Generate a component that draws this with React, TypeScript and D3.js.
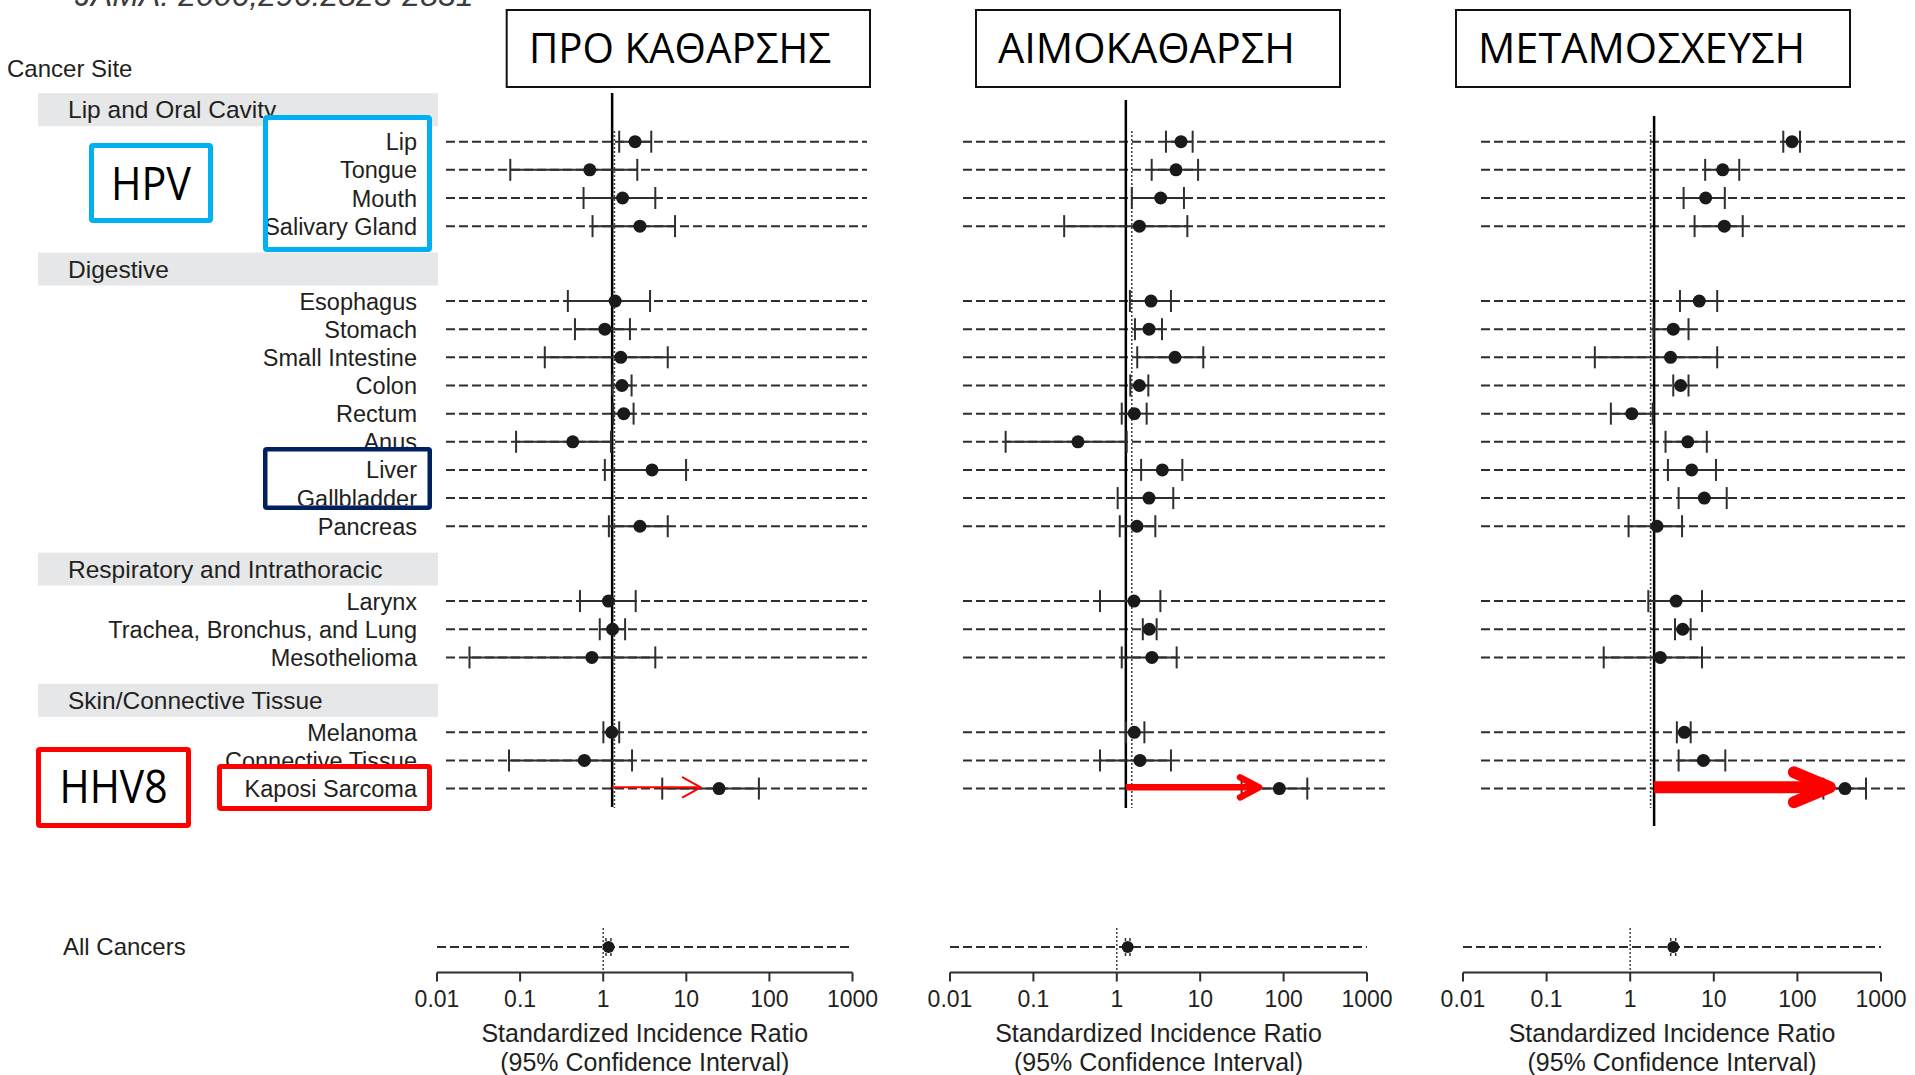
import React from "react";
import * as d3 from "d3";

// ---------- data ----------
const groupNames = ["Lip and Oral Cavity", "Digestive", "Respiratory and Intrathoracic", "Skin/Connective Tissue"];
const siteNames = [
  "Lip", "Tongue", "Mouth", "Salivary Gland",
  "Esophagus", "Stomach", "Small Intestine", "Colon", "Rectum", "Anus", "Liver", "Gallbladder", "Pancreas",
  "Larynx", "Trachea, Bronchus, and Lung", "Mesothelioma",
  "Melanoma", "Connective Tissue", "Kaposi Sarcoma",
];
const siteGroup = [0, 0, 0, 0, 1, 1, 1, 1, 1, 1, 1, 1, 1, 2, 2, 2, 3, 3, 3];

const panelTitles = ["ΠΡΟ ΚΑΘΑΡΣΗΣ", "ΑΙΜΟΚΑΘΑΡΣΗ", "ΜΕΤΑΜΟΣΧΕΥΣΗ"];

// before dialysis
const preSIR = [1.76, 0.51, 1.25, 2.01, 1.02, 0.77, 1.19, 1.23, 1.29, 0.32, 2.8, null, 2.01, 0.85, 0.95, 0.54, 0.93, 0.44, 17.5];
const preLow = [1.14, 0.058, 0.43, 0.55, 0.28, 0.34, 0.149, 0.95, 0.97, 0.068, 0.77, null, 0.86, 0.39, 0.67, 0.019, 0.74, 0.056, 3.7];
const preHigh = [2.74, 1.87, 3.06, 5.25, 2.65, 1.53, 4.3, 1.6, 1.69, 0.91, 7.1, null, 4.3, 1.79, 1.34, 3.06, 1.14, 1.62, 52];

// dialysis
const dialSIR = [3.83, 3.34, 2.2, 1.23, 1.69, 1.6, 3.25, 1.23, 1.07, 0.23, 2.3, 1.6, 1.15, 1.06, 1.61, 1.73, 1.07, 1.25, 56];
const dialLow = [2.54, 1.72, 1.0, 0.158, 0.95, 1.09, 1.16, 0.96, 0.76, 0.032, 1.29, 0.68, 0.72, 0.42, 1.35, 0.76, 0.85, 0.42, 20];
const dialHigh = [5.26, 6.1, 4.15, 4.55, 2.91, 2.28, 7.03, 1.57, 1.5, 0.87, 3.97, 3.1, 1.9, 2.18, 1.97, 3.4, 1.41, 2.91, 120];

// transplant
const txSIR = [46.5, 7.08, 4.46, 7.4, 3.75, 1.85, 1.72, 2.26, 0.6, 2.74, 3.05, 4.3, 1.19, 2.0, 2.39, 1.3, 2.5, 4.19, 196];
const txLow = [36.7, 4.4, 2.45, 3.3, 2.22, 1.08, 0.22, 1.85, 0.34, 1.5, 1.6, 2.14, 0.55, 0.94, 1.94, 0.28, 2.04, 2.14, 109];
const txHigh = [57.8, 11.1, 7.5, 12.2, 6.1, 2.8, 6.1, 2.8, 1.06, 4.6, 5.9, 7.9, 2.35, 4.04, 2.97, 4.04, 2.97, 7.6, 347];

const allCancersSIR = [1.16, 1.35, 3.27];
const allCancersLow = [1.08, 1.27, 3.05];
const allCancersHigh = [1.24, 1.44, 3.5];

const tickValues = [0.01, 0.1, 1, 10, 100, 1000];
const tickLabels = ["0.01", "0.1", "1", "10", "100", "1000"];
const solidRefValue = [0.94, 0.85, 1.1];
const arrowTipValue = [10.6, 32.2, 130];

const panels = [
  { title: panelTitles[0], sir: preSIR, low: preLow, high: preHigh },
  { title: panelTitles[1], sir: dialSIR, low: dialLow, high: dialHigh },
  { title: panelTitles[2], sir: txSIR, low: txLow, high: txHigh },
];

// ---------- layout ----------
const W = 1915;
const H = 1075;
const upperRange = [[446, 867], [963, 1385], [1481, 1905]];
const axisRange = [[437, 852.5], [950, 1367], [1463, 1881]];
const titleBox = [
  { x0: 506.7, x1: 870, tx: 529, tl: 302 },
  { x0: 976, x1: 1340, tx: 998, tl: 297 },
  { x0: 1456, x1: 1850, tx: 1478, tl: 327 },
];
const solidTop = [93, 100, 116];
const solidBottom = [807, 808, 826];
const arrowStyle = [
  { sw: 2, len: 18, half: 10 },
  { sw: 6.5, len: 19, half: 10 },
  { sw: 12, len: 36, half: 15 },
];
const GAP = 1.66;
const TEXT = "#231f20";
const LINE = "#2e2e2e";
const FONT = "'Liberation Sans', Arial, Helvetica, sans-serif";
const SLIDE_FONT = "'Open Sans', 'Noto Sans', sans-serif";

const rowIdx = siteNames.map((_, i) => i + siteGroup[i] * GAP);
const y = d3.scaleLinear().domain([0, 18 + 3 * GAP]).range([141.7, 788.6]);
const groupFirst = groupNames.map((_, g) => siteGroup.indexOf(g));

const allY = 947;
const axisY = 972.5;

type Box = { x0: number; y0: number; x1: number; y1: number; color: string; sw: number; rows?: number[]; text?: string; fs?: number; tl?: number; ty?: number };
const boxes: Box[] = [
  { x0: 89, y0: 143, x1: 213, y1: 223, color: "#00b0f0", sw: 5, text: "HPV", fs: 46, tl: 80, ty: 200 },
  { x0: 263, y0: 115, x1: 432, y1: 252, color: "#00b0f0", sw: 5, rows: [0, 1, 2, 3] },
  { x0: 263, y0: 447, x1: 432, y1: 510, color: "#002060", sw: 4.5, rows: [10, 11] },
  { x0: 36, y0: 747, x1: 191, y1: 828, color: "#ff0000", sw: 5, text: "HHV8", fs: 46, tl: 108, ty: 803 },
  { x0: 217, y0: 764, x1: 432, y1: 811, color: "#ff0000", sw: 5, rows: [18] },
];

function RowLabel({ i }: { i: number }) {
  return (
    <text x={417} y={y(rowIdx[i]) + 8.5} textAnchor="end" fontSize={23.5} fill={TEXT} fontFamily={FONT}>
      {siteNames[i]}
    </text>
  );
}

function Panel({ p }: { p: number }) {
  const panel = panels[p];
  const xu = d3.scaleLog().domain([0.01, 1000]).range(upperRange[p]);
  const xa = d3.scaleLog().domain([0.01, 1000]).range(axisRange[p]);
  const tb = titleBox[p];
  const st = arrowStyle[p];
  const ay = y(rowIdx[18]) - 1.3;
  const tip = xu(arrowTipValue[p]);
  const x0 = xu(solidRefValue[p]);
  const centerAxis = (axisRange[p][0] + axisRange[p][1]) / 2;
  return (
    <g>
      {/* title box */}
      <rect x={tb.x0} y={10} width={tb.x1 - tb.x0} height={77} fill="white" stroke="#111" strokeWidth={2} />
      <text x={tb.tx} y={63.3} fontSize={42} fontFamily={SLIDE_FONT} fill="#000" textLength={tb.tl} lengthAdjust="spacingAndGlyphs">
        {panel.title}
      </text>

      {/* dashed row lines */}
      {siteNames.map((_, i) => (
        <line key={"d" + i} x1={upperRange[p][0]} x2={upperRange[p][1]} y1={y(rowIdx[i])} y2={y(rowIdx[i])}
          stroke={LINE} strokeWidth={2} strokeDasharray="9,4" />
      ))}

      {/* reference lines */}
      <line x1={xu(1)} x2={xu(1)} y1={131} y2={808} stroke="#444" strokeWidth={1.6} strokeDasharray="2,2" />
      <line x1={x0} x2={x0} y1={solidTop[p]} y2={solidBottom[p]} stroke="#000" strokeWidth={2.5} />

      {/* CI + points */}
      {siteNames.map((_, i) => {
        const s = panel.sir[i];
        const lo = panel.low[i];
        const hi = panel.high[i];
        if (s == null || lo == null || hi == null) return null;
        const yy = y(rowIdx[i]);
        return (
          <g key={"c" + i}>
            <line x1={xu(lo)} x2={xu(hi)} y1={yy} y2={yy} stroke={LINE} strokeWidth={2} />
            <line x1={xu(lo)} x2={xu(lo)} y1={yy - 11} y2={yy + 11} stroke={LINE} strokeWidth={2} />
            <line x1={xu(hi)} x2={xu(hi)} y1={yy - 11} y2={yy + 11} stroke={LINE} strokeWidth={2} />
            <circle cx={xu(s)} cy={yy} r={6.5} fill="#1a1a1a" />
          </g>
        );
      })}

      {/* red arrow */}
      <g stroke="#ff0000" fill="none">
        <line x1={x0} x2={tip - st.sw * 0.6} y1={ay} y2={ay} strokeWidth={st.sw} strokeLinecap="butt" />
        <path d={`M${tip - st.len},${ay - st.half} L${tip},${ay} L${tip - st.len},${ay + st.half}`}
          strokeWidth={st.sw} strokeLinecap="round" strokeLinejoin="round" />
      </g>

      {/* all cancers */}
      <line x1={axisRange[p][0]} x2={axisRange[p][1]} y1={allY} y2={allY} stroke={LINE} strokeWidth={2} strokeDasharray="9,4" />
      <line x1={xa(1)} x2={xa(1)} y1={928} y2={axisY} stroke="#444" strokeWidth={1.5} strokeDasharray="2,2" />
      <line x1={xa(allCancersLow[p])} x2={xa(allCancersLow[p])} y1={allY - 9} y2={allY + 9} stroke={LINE} strokeWidth={1.5} strokeDasharray="3,2" />
      <line x1={xa(allCancersHigh[p])} x2={xa(allCancersHigh[p])} y1={allY - 9} y2={allY + 9} stroke={LINE} strokeWidth={1.5} strokeDasharray="3,2" />
      <circle cx={xa(allCancersSIR[p])} cy={allY} r={6} fill="#1a1a1a" />

      {/* axis */}
      <line x1={axisRange[p][0]} x2={axisRange[p][1]} y1={axisY} y2={axisY} stroke={LINE} strokeWidth={2} />
      {tickValues.map((v, k) => (
        <g key={"t" + k}>
          <line x1={xa(v)} x2={xa(v)} y1={axisY} y2={axisY + 9} stroke={LINE} strokeWidth={2} />
          <text x={xa(v)} y={1006.5} textAnchor="middle" fontSize={23} fill={TEXT} fontFamily={FONT}>{tickLabels[k]}</text>
        </g>
      ))}
      <text x={centerAxis} y={1041.5} textAnchor="middle" fontSize={25} fill={TEXT} fontFamily={FONT}>Standardized Incidence Ratio</text>
      <text x={centerAxis} y={1070.5} textAnchor="middle" fontSize={25} fill={TEXT} fontFamily={FONT}>(95% Confidence Interval)</text>
    </g>
  );
}

export default function App() {
  return (
    <svg width={W} height={H} viewBox={`0 0 ${W} ${H}`} style={{ position: "absolute", left: 0, top: 0, background: "white" }}>
      <rect x={0} y={0} width={W} height={H} fill="white" />
      <defs>
        {boxes.map((b, k) => (
          <clipPath key={k} id={"clip" + k}>
            <rect x={b.x0 + b.sw} y={b.y0 + b.sw} width={b.x1 - b.x0 - 2 * b.sw} height={b.y1 - b.y0 - 2 * b.sw} />
          </clipPath>
        ))}
      </defs>

      <text x={75} y={6} fontSize={32} fontStyle="italic" fill="#3c3c3c" fontFamily={FONT}>JAMA. 2006;296:2823-2831</text>
      <text x={7} y={77} fontSize={24} fill={TEXT} fontFamily={FONT}>Cancer Site</text>

      {groupNames.map((g, k) => {
        const top = y(rowIdx[groupFirst[k]]) - 48.5;
        return (
          <g key={"g" + k}>
            <rect x={38} y={top} width={400} height={33} fill="#e6e7e8" />
            <text x={68} y={top + 25} fontSize={24.5} fill={TEXT} fontFamily={FONT}>{g}</text>
          </g>
        );
      })}

      {siteNames.map((_, i) => <RowLabel key={"l" + i} i={i} />)}
      <text x={63} y={955} fontSize={24} fill={TEXT} fontFamily={FONT}>All Cancers</text>

      {panels.map((_, p) => <Panel key={p} p={p} />)}

      {/* annotation boxes */}
      {boxes.map((b, k) => (
        <g key={"b" + k}>
          <rect x={b.x0} y={b.y0} width={b.x1 - b.x0} height={b.y1 - b.y0} fill="white" />
          {b.rows && (
            <g clipPath={`url(#clip${k})`}>
              {b.rows.map((i) => <RowLabel key={i} i={i} />)}
            </g>
          )}
          {b.text && (
            <text x={(b.x0 + b.x1) / 2} y={b.ty} textAnchor="middle" fontSize={b.fs} fill="#000" fontFamily={SLIDE_FONT}
              textLength={b.tl} lengthAdjust="spacingAndGlyphs">{b.text}</text>
          )}
          <rect x={b.x0 + b.sw / 2} y={b.y0 + b.sw / 2} width={b.x1 - b.x0 - b.sw} height={b.y1 - b.y0 - b.sw}
            fill="none" stroke={b.color} strokeWidth={b.sw} rx={1.5} />
        </g>
      ))}
    </svg>
  );
}
